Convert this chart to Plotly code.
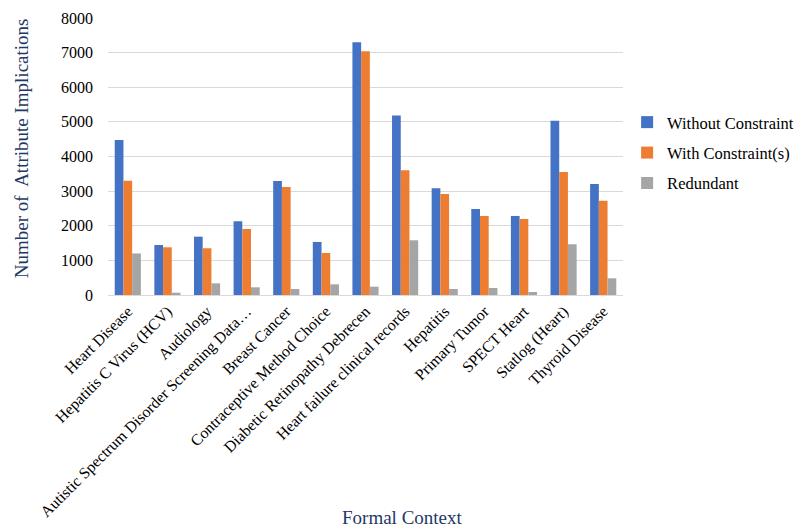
import plotly.graph_objects as go

categories = ["Heart Disease", "Hepatitis C Virus (HCV)", "Audiology",
              "Autistic Spectrum Disorder Screening Data…", "Breast Cancer",
              "Contraceptive Method Choice", "Diabetic Retinopathy Debrecen",
              "Heart failure clinical records", "Hepatitis", "Primary Tumor",
              "SPECT Heart", "Statlog (Heart)", "Thyroid Disease"]
without_constraint = [4480, 1445, 1685, 2130, 3295, 1532, 7303, 5182, 3083, 2486, 2283, 5029, 3208]
with_constraints = [3300, 1378, 1350, 1907, 3121, 1214, 7043, 3604, 2919, 2283, 2197, 3555, 2725]
redundant = [1200, 67, 337, 222, 173, 308, 241, 1580, 173, 202, 87, 1465, 482]
y_ticks = [0, 1000, 2000, 3000, 4000, 5000, 6000, 7000, 8000]

series = [("Without Constraint", without_constraint, "#4472C4"),
          ("With Constraint(s)", with_constraints, "#ED7D31"),
          ("Redundant", redundant, "#A5A5A5")]

FONT = "Liberation Serif"
fig = go.Figure()
for i, (name, vals, color) in enumerate(series):
    fig.add_trace(go.Bar(x=categories, y=vals, name=name, marker_color=color,
                         marker_line_width=0, legendgroup=str(i)))

fig.update_layout(
    width=801, height=529,
    margin=dict(l=108, r=178, t=18, b=234, autoexpand=False),
    paper_bgcolor="white", plot_bgcolor="white",
    barmode="group", bargap=0.34, bargroupgap=0,
    font=dict(family=FONT, size=16, color="black"),
    legend=dict(x=1.008, y=0.513, xanchor="left", yanchor="middle",
                font=dict(family=FONT, size=16.5, color="black"),
                tracegroupgap=6, itemwidth=30),
    showlegend=True,
)
fig.update_xaxes(tickangle=-45, showline=True, linecolor="#d9d9d9", linewidth=1,
                 showgrid=False, ticks="", automargin=False,
                 tickfont=dict(family=FONT, size=15.8))
fig.update_yaxes(range=[0, 8000], tickvals=y_ticks, showgrid=True, gridcolor="#d9d9d9",
                 gridwidth=1, zeroline=False, showline=False, ticks="", automargin=False,
                 ticklabelstandoff=14, tickfont=dict(family=FONT, size=16))

fig.add_annotation(text="Number of  Attribute Implications", textangle=-90,
                   xref="paper", yref="paper", x=-0.169, y=0.53, xanchor="center",
                   yanchor="middle", showarrow=False,
                   font=dict(family=FONT, size=19, color="#1F3864"))
fig.add_annotation(text="Formal Context", xref="paper", yref="paper",
                   x=0.571, y=-0.805, xanchor="center", yanchor="middle",
                   showarrow=False, font=dict(family=FONT, size=19, color="#1F3864"))

fig.write_html("out.html")
